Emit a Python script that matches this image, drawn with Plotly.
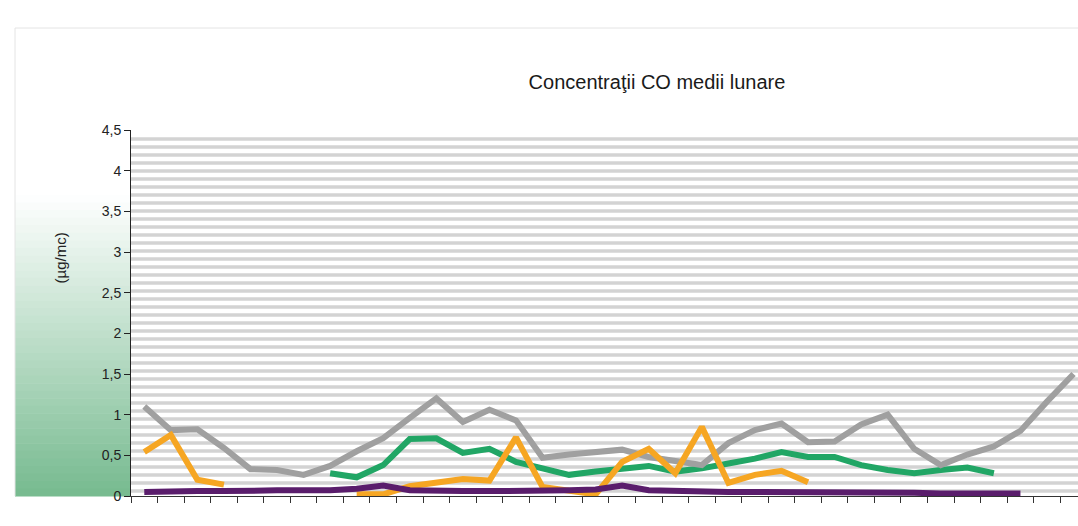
import plotly.graph_objects as go

# ---- data ----
luni_an = ["ian", "feb", "mar", "apr", "mai", "iun", "iul", "aug", "sep", "oct", "nov", "dec"]
ani = ["an 1", "an 2", "an 3"]
luni = [f"{m} {a}" for a in ani for m in luni_an]

serie_gri = [1.10, 0.81, 0.82, 0.59, 0.33, 0.32, 0.26, 0.37, 0.55, 0.71, 0.96, 1.20,
             0.91, 1.06, 0.93, 0.47, 0.51, 0.54, 0.57, 0.48, 0.43, 0.38, 0.65, 0.81,
             0.89, 0.66, 0.67, 0.88, 1.00, 0.58, 0.38, 0.51, 0.61, 0.80, 1.16, 1.50]

serie_verde = [None, None, None, None, None, None, None, 0.28, 0.23, 0.38, 0.70, 0.71,
               0.53, 0.58, 0.42, 0.34, 0.26, 0.30, 0.33, 0.37, 0.30, 0.34, 0.40, 0.46,
               0.54, 0.48, 0.48, 0.38, 0.32, 0.28, 0.32, 0.35, 0.28, None, None, None]

serie_portocalie = [0.54, 0.75, 0.20, 0.14, None, None, None, None, 0.02, 0.02, 0.12, 0.16,
                    0.21, 0.19, 0.72, 0.11, 0.06, 0.02, 0.42, 0.58, 0.28, 0.85, 0.16, 0.26,
                    0.31, 0.17, None, None, None, None, None, None, None, None, None, None]

serie_mov = [0.05, 0.06, 0.06, 0.06, 0.07, 0.07, 0.07, 0.07, 0.09, 0.13, 0.07, 0.06,
             0.06, 0.06, 0.06, 0.06, 0.07, 0.08, 0.13, 0.07, 0.06, 0.06, 0.05, 0.05,
             0.05, 0.05, 0.04, 0.04, 0.04, 0.04, 0.03, 0.03, 0.03, 0.03, None, None]

titlu = "Concentraţii CO medii lunare"
unitate = "(µg/mc)"

# ---- figure ----
W, H = 1078, 526
ML, MR, MT, MB = 131, 0, 130, 30
PW, PH = W - ML - MR, H - MT - MB

fig = go.Figure()

series = [
    ("Staţia 2", serie_verde, "#21a665"),
    ("Staţia 1", serie_gri, "#a0a0a0"),
    ("Staţia 3", serie_portocalie, "#f6a623"),
    ("Staţia 4", serie_mov, "#5a1d6c"),
]
for name, vals, col in series:
    fig.add_trace(go.Scatter(
        x=luni, y=vals, name=name, mode="lines",
        line=dict(color=col, width=6), connectgaps=False,
        hoverinfo="x+y+name",
    ))

shapes = []
# chart-area gradient (white -> green), visible left of the plot area
g_top_px, g_bot_px = 195, MT + PH
g_left_px = 15
steps = 40
c0 = (255, 255, 255)
c1 = (118, 186, 143)
for k in range(steps):
    t = (k + 0.5) / steps
    col = tuple(int(round(c0[j] + (c1[j] - c0[j]) * t)) for j in range(3))
    y_px0 = g_top_px + (g_bot_px - g_top_px) * k / steps
    y_px1 = g_top_px + (g_bot_px - g_top_px) * (k + 1) / steps + 0.5
    shapes.append(dict(
        type="rect", xref="paper", yref="paper", layer="below",
        x0=(g_left_px - ML) / PW, x1=0,
        y0=(MT + PH - y_px1) / PH, y1=(MT + PH - y_px0) / PH,
        fillcolor=f"rgb{col}", line=dict(width=0),
    ))
# faint chart border
shapes.append(dict(type="line", xref="paper", yref="paper", layer="below",
                   x0=(g_left_px - ML) / PW, x1=1.0,
                   y0=(MT + PH - 28) / PH, y1=(MT + PH - 28) / PH,
                   line=dict(color="#e4e4e4", width=1)))
shapes.append(dict(type="line", xref="paper", yref="paper", layer="below",
                   x0=(g_left_px - ML) / PW, x1=(g_left_px - ML) / PW,
                   y0=0, y1=(MT + PH - 28) / PH,
                   line=dict(color="#e4e4e4", width=1)))
# plot area: white with narrow horizontal stripes
shapes.append(dict(type="rect", xref="x domain", yref="y domain", layer="below",
                   x0=0, x1=1, y0=0, y1=1, fillcolor="white", line=dict(width=0)))
period = 8.0
n = int(PH // period)
for k in range(n):
    yy = (k * period + 5) / PH
    if yy >= 1:
        break
    shapes.append(dict(type="line", xref="x domain", yref="y domain", layer="below",
                       x0=0, x1=1, y0=yy, y1=yy,
                       line=dict(color="#d3d3d3", width=3.6)))

fig.update_layout(
    width=W, height=H,
    margin=dict(l=ML, r=MR, t=MT, b=MB, pad=0),
    paper_bgcolor="white", plot_bgcolor="rgba(0,0,0,0)",
    separators=", ",
    showlegend=False,
    font=dict(family="Liberation Sans, Arial, sans-serif", color="#222222"),
    title=dict(text=titlu, x=657 / W, xref="container", xanchor="center",
               y=1 - 82 / H, yref="container", yanchor="middle",
               font=dict(size=20, color="#1a1a1a")),
    shapes=shapes,
    annotations=[dict(text=unitate, xref="paper", yref="paper",
                      x=(49 - ML) / PW, y=(MT + PH - 258) / PH,
                      textangle=-90, showarrow=False,
                      font=dict(size=15, color="#222222"))],
)

fig.update_xaxes(
    type="category", categoryorder="array", categoryarray=luni,
    range=[-0.5, -0.5 + PW / 26.55],
    showgrid=False, zeroline=False, showticklabels=False,
    ticks="outside", ticklen=6, tickcolor="#333333", tickson="boundaries",
    showline=True, linecolor="#333333", linewidth=1,
)
fig.update_yaxes(
    range=[0, 4.5], dtick=0.5, tick0=0,
    showgrid=False, zeroline=False,
    ticks="outside", ticklen=6, tickcolor="#222222",
    showline=True, linecolor="#222222", linewidth=1,
    tickfont=dict(size=14, color="#222222"),
)

fig.write_html(
    "out.html",
    config={"displayModeBar": False},
    post_script="document.body.style.margin='0';document.body.style.overflow='hidden';",
)
